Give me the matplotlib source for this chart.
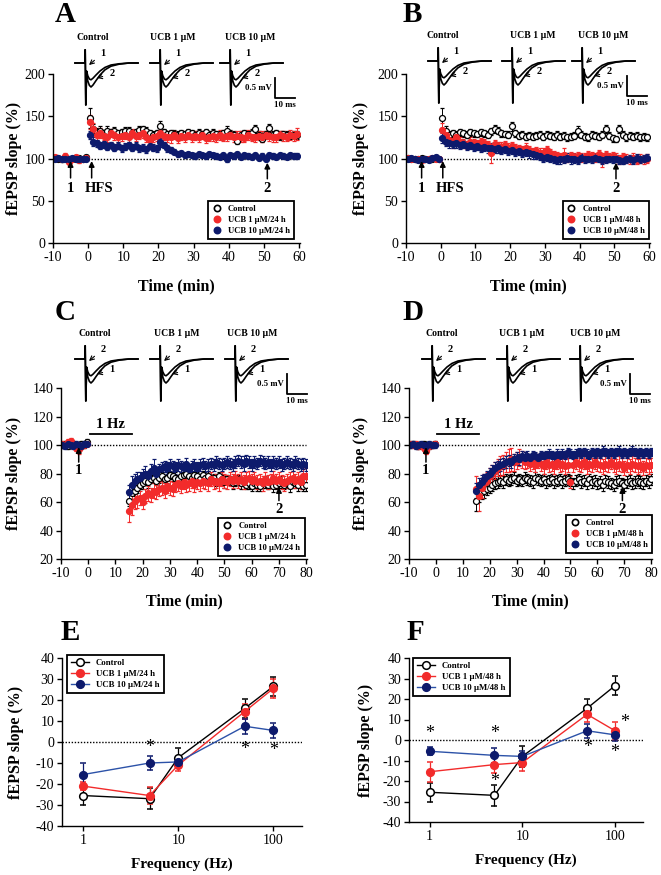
"""fEPSP time courses (LTP / LTD) and frequency-response curves, panels A-F."""

import numpy as np
import matplotlib
matplotlib.use("Agg")
import matplotlib.pyplot as plt
from matplotlib.lines import Line2D
from matplotlib.ticker import NullLocator

plt.rcParams["font.family"] = ["Liberation Serif", "DejaVu Serif"]
plt.rcParams["axes.linewidth"] = 1.0
plt.rcParams["axes.unicode_minus"] = False

W, H = 661, 875
RED = "#f22b2b"
NAVY = "#0d1a6c"
BLUE_LINE = "#2c52a8"

# ---------------- panel A (LTP, 24 h) ----------------
A_ctrl_base = [101, 100, 99, 101, 100, 99, 100, 101, 100, 102]
A_ctrl_base_err = [2, 2, 3, 2, 2, 2, 3, 2, 2, 2]
A_ctrl_post = [148, 135, 131, 133, 130, 133, 131, 132, 130, 131,
               133, 132, 130, 131, 134, 135, 133, 130, 128, 130,
               139, 131, 129, 130, 129, 128, 130, 129, 131, 130,
               128, 130, 129, 131, 128, 130, 129, 128, 130, 133,
               129, 128, 121, 128, 130, 129, 130, 135, 128, 123,
               129, 136, 128, 130, 127, 129, 128, 127, 128, 128]
A_ctrl_post_err = [12, 6, 5, 5, 4, 5, 4, 5, 4, 4,
                   4, 5, 4, 4, 5, 4, 4, 4, 5, 4,
                   5, 4, 4, 4, 5, 4, 4, 4, 4, 4,
                   4, 5, 4, 4, 4, 5, 4, 4, 4, 5,
                   5, 4, 4, 5, 4, 4, 5, 5, 5, 4,
                   4, 5, 4, 4, 5, 4, 4, 4, 4, 5]
A_red_base = [102, 101, 99, 103, 96, 100, 102, 98, 100, 101]
A_red_base_err = [2, 2, 2, 3, 3, 2, 2, 3, 2, 2]
A_red_post = [143, 135, 128, 130, 127, 126, 130, 128, 125, 127,
              128, 126, 130, 127, 128, 130, 126, 122, 125, 127,
              130, 127, 126, 125, 128, 124, 127, 126, 128, 125,
              127, 126, 128, 124, 126, 127, 125, 128, 126, 127,
              128, 125, 127, 126, 124, 128, 126, 125, 127, 126,
              128, 127, 125, 126, 128, 127, 126, 128, 127, 129]
A_red_post_err = [8, 7, 6, 6, 5, 6, 5, 6, 5, 6,
                  5, 6, 5, 6, 5, 6, 7, 6, 5, 6,
                  6, 5, 6, 7, 5, 6, 5, 6, 5, 6,
                  5, 6, 5, 6, 5, 6, 5, 6, 5, 6,
                  5, 6, 5, 6, 5, 6, 5, 6, 5, 6,
                  5, 6, 5, 6, 5, 6, 5, 6, 6, 7]
A_blue_base = [100, 101, 100, 99, 100, 101, 99, 100, 100, 100]
A_blue_base_err = [2, 2, 2, 2, 2, 2, 2, 2, 2, 2]
A_blue_post = [128, 120, 118, 115, 117, 114, 116, 113, 115, 112,
               114, 116, 113, 115, 112, 113, 111, 115, 113, 112,
               119, 116, 112, 110, 108, 105, 106, 104, 105, 104,
               103, 105, 104, 103, 105, 104, 103, 102, 104, 100,
               104, 103, 105, 102, 104, 103, 102, 104, 101, 103,
               100, 104, 103, 102, 104, 103, 102, 104, 103, 103]
A_blue_post_err = [5, 5, 4, 4, 4, 4, 4, 4, 4, 4,
                   4, 4, 4, 4, 4, 4, 4, 4, 4, 4,
                   5, 4, 4, 4, 3, 3, 3, 3, 3, 3,
                   3, 3, 3, 3, 3, 3, 3, 3, 3, 4,
                   3, 3, 3, 3, 3, 3, 3, 3, 3, 3,
                   3, 3, 3, 3, 3, 3, 3, 3, 3, 3]

# ---------------- panel B (LTP, 48 h) ----------------
B_ctrl_base = [101, 100, 100, 99, 101, 100, 99, 100, 101, 100]
B_ctrl_base_err = [2, 2, 2, 2, 2, 2, 2, 2, 2, 2]
B_ctrl_post = [148, 133, 128, 130, 128, 131, 130, 128, 131, 130,
               129, 131, 130, 128, 132, 135, 133, 130, 129, 128,
               138, 130, 127, 128, 126, 127, 126, 127, 128, 126,
               128, 127, 126, 128, 126, 127, 125, 126, 127, 132,
               128, 126, 125, 128, 127, 126, 128, 135, 127, 124,
               123, 135, 128, 125, 127, 126, 127, 125, 126, 125]
B_ctrl_post_err = [12, 5, 4, 4, 4, 4, 4, 4, 4, 4,
                   4, 4, 4, 4, 4, 5, 4, 4, 4, 4,
                   5, 4, 4, 4, 4, 4, 4, 4, 4, 4,
                   4, 4, 4, 4, 4, 4, 4, 4, 4, 6,
                   4, 4, 4, 4, 4, 4, 4, 5, 4, 4,
                   4, 5, 4, 4, 4, 4, 4, 4, 4, 4]
B_red_base = [101, 100, 99, 100, 98, 99, 100, 101, 99, 100]
B_red_base_err = [2, 2, 2, 2, 2, 2, 2, 2, 2, 2]
B_red_post = [134, 128, 122, 118, 125, 120, 118, 116, 120, 118,
              117, 119, 118, 116, 106, 117, 115, 114, 116, 113,
              115, 112, 111, 110, 113, 110, 108, 109, 107, 107,
              110, 106, 104, 103, 102, 104, 101, 103, 102, 103,
              101, 102, 104, 103, 101, 105, 98, 104, 102, 103,
              101, 99, 102, 100, 99, 101, 98, 100, 99, 100]
B_red_post_err = [8, 7, 6, 6, 6, 6, 5, 5, 6, 5,
                  5, 5, 5, 5, 11, 5, 5, 5, 5, 5,
                  5, 5, 5, 5, 5, 5, 5, 5, 5, 5,
                  5, 5, 5, 5, 5, 8, 5, 5, 5, 5,
                  5, 5, 5, 5, 5, 5, 8, 5, 5, 5,
                  5, 5, 5, 5, 5, 5, 5, 5, 5, 5]
B_blue_base = [100, 101, 99, 98, 100, 99, 98, 101, 102, 100]
B_blue_base_err = [2, 2, 2, 2, 2, 2, 2, 2, 2, 2]
B_blue_post = [124, 120, 118, 117, 118, 116, 117, 115, 116, 114,
               115, 113, 114, 112, 113, 111, 112, 110, 111, 109,
               110, 108, 109, 107, 108, 106, 105, 104, 103, 101,
               102, 101, 100, 98, 99, 100, 101, 99, 100, 98,
               101, 99, 100, 99, 101, 100, 98, 99, 100, 99,
               100, 98, 97, 99, 100, 98, 101, 99, 100, 101]
B_blue_post_err = [6, 5, 5, 5, 5, 5, 5, 5, 5, 5,
                   5, 5, 5, 5, 5, 5, 5, 5, 5, 5,
                   5, 5, 5, 5, 5, 5, 5, 5, 5, 5,
                   5, 5, 5, 5, 5, 5, 5, 5, 5, 5,
                   4, 4, 4, 4, 4, 4, 4, 4, 4, 4,
                   4, 4, 4, 4, 4, 4, 4, 4, 4, 4]

# ---------------- panel C (LTD, 24 h) ----------------
C_ctrl_base = [100, 101, 99, 100, 101, 100, 99, 101, 100, 102]
C_ctrl_base_err = [2, 2, 2, 2, 2, 2, 2, 2, 2, 2]
C_ctrl_post = [61, 66, 68, 70, 72, 73, 75, 74, 76, 77,
               75, 77, 78, 76, 77, 79, 78, 77, 76, 78,
               79, 80, 78, 77, 79, 78, 76, 79, 77, 78,
               76, 77, 75, 78, 76, 74, 76, 75, 73, 74,
               76, 73, 74, 72, 73, 71, 73, 72, 71, 73,
               74, 72, 73, 71, 72, 73, 74, 72, 73, 71,
               74, 73, 72, 74, 71, 72]
C_ctrl_post_err = [4, 5, 4, 4, 3, 4, 3, 4, 3, 3,
                   3, 4, 3, 3, 4, 3, 3, 4, 3, 3,
                   4, 3, 3, 4, 3, 3, 4, 3, 3, 4,
                   3, 3, 4, 3, 3, 4, 3, 3, 4, 3,
                   3, 4, 3, 3, 4, 3, 3, 4, 3, 3,
                   4, 3, 3, 4, 3, 3, 4, 3, 3, 4,
                   3, 3, 4, 3, 3, 4]
C_red_base = [101, 100, 102, 103, 100, 98, 97, 99, 100, 101]
C_red_base_err = [2, 2, 2, 2, 2, 2, 3, 2, 2, 2]
C_red_post = [54, 58, 61, 62, 63, 60, 64, 66, 65, 68,
              67, 69, 70, 68, 71, 70, 69, 72, 73, 71,
              74, 72, 73, 75, 72, 74, 73, 75, 74, 73,
              76, 74, 75, 73, 76, 75, 74, 76, 75, 77,
              75, 76, 74, 76, 77, 75, 76, 74, 75, 73,
              76, 74, 75, 77, 75, 76, 74, 73, 75, 76,
              77, 75, 76, 74, 78, 78]
C_red_post_err = [8, 7, 6, 6, 5, 5, 5, 5, 5, 5,
                  5, 5, 5, 5, 5, 5, 5, 5, 5, 5,
                  5, 5, 5, 5, 5, 5, 5, 5, 5, 5,
                  5, 5, 5, 5, 5, 5, 5, 5, 5, 5,
                  5, 5, 5, 5, 5, 5, 5, 5, 5, 5,
                  5, 5, 5, 5, 5, 5, 5, 5, 5, 5,
                  5, 5, 5, 5, 5, 6]
C_blue_base = [100, 99, 101, 100, 99, 101, 100, 99, 101, 101]
C_blue_base_err = [2, 2, 2, 2, 2, 2, 2, 2, 2, 2]
C_blue_post = [67, 72, 75, 76, 77, 79, 80, 78, 82, 84,
               80, 83, 84, 85, 84, 86, 85, 84, 86, 85,
               84, 87, 83, 85, 86, 84, 86, 87, 85, 86,
               87, 86, 88, 87, 86, 87, 88, 87, 86, 88,
               89, 88, 87, 89, 88, 86, 88, 87, 89, 88,
               87, 88, 86, 88, 87, 88, 86, 87, 88, 87,
               86, 88, 87, 86, 87, 86]
C_blue_post_err = [5, 6, 5, 5, 4, 4, 5, 4, 5, 6,
                   4, 4, 4, 4, 4, 4, 4, 4, 4, 4,
                   4, 4, 4, 4, 4, 4, 4, 4, 4, 4,
                   4, 4, 4, 4, 4, 4, 4, 4, 4, 4,
                   4, 4, 5, 4, 4, 4, 4, 4, 4, 4,
                   4, 4, 4, 4, 4, 4, 4, 4, 4, 4,
                   4, 4, 4, 4, 4, 4]

# ---------------- panel D (LTD, 48 h) ----------------
D_ctrl_base = [100, 101, 100, 99, 100, 101, 100, 99, 100, 101]
D_ctrl_base_err = [2, 2, 2, 2, 2, 2, 2, 2, 2, 2]
D_ctrl_post = [61, 65, 67, 68, 69, 70, 72, 73, 74, 75,
               74, 76, 75, 76, 77, 75, 76, 75, 77, 76,
               75, 74, 77, 76, 75, 76, 74, 75, 76, 74,
               75, 76, 74, 75, 76, 75, 73, 75, 76, 74,
               75, 73, 76, 74, 75, 73, 74, 72, 75, 74,
               73, 72, 74, 75, 73, 72, 74, 75, 73, 74,
               75, 74, 73, 75, 74, 76]
D_ctrl_post_err = [7, 5, 5, 5, 4, 4, 4, 4, 4, 4,
                   4, 4, 4, 4, 4, 4, 4, 4, 4, 4,
                   4, 4, 4, 4, 4, 4, 4, 4, 4, 4,
                   4, 4, 4, 4, 4, 4, 4, 4, 4, 4,
                   4, 4, 4, 4, 4, 4, 4, 4, 4, 4,
                   4, 4, 4, 4, 4, 4, 4, 4, 4, 4,
                   4, 4, 4, 4, 4, 4]
D_red_base = [101, 100, 101, 99, 100, 98, 96, 99, 100, 101]
D_red_base_err = [2, 2, 2, 2, 2, 2, 2, 2, 2, 2]
D_red_post = [69, 64, 70, 73, 75, 78, 80, 82, 84, 85,
              86, 88, 89, 90, 88, 89, 91, 90, 88, 89,
              87, 88, 86, 89, 87, 85, 88, 86, 87, 85,
              88, 86, 87, 85, 86, 74, 86, 88, 87, 86,
              88, 85, 87, 86, 88, 87, 86, 85, 87, 86,
              88, 86, 85, 87, 86, 84, 86, 85, 87, 86,
              85, 86, 84, 86, 85, 86]
D_red_post_err = [9, 10, 7, 7, 6, 6, 6, 6, 6, 7,
                  7, 7, 8, 8, 6, 6, 6, 6, 5, 5,
                  5, 5, 5, 5, 5, 5, 5, 5, 5, 5,
                  5, 5, 5, 5, 5, 4, 5, 5, 5, 5,
                  5, 5, 5, 5, 5, 5, 5, 5, 5, 5,
                  5, 5, 5, 5, 5, 5, 5, 5, 5, 5,
                  5, 5, 5, 5, 5, 5]
D_blue_base = [100, 101, 99, 100, 101, 100, 99, 101, 100, 100]
D_blue_base_err = [2, 2, 2, 2, 2, 2, 2, 2, 2, 2]
D_blue_post = [68, 72, 74, 76, 78, 80, 82, 84, 85, 86,
               87, 88, 89, 88, 90, 91, 90, 92, 91, 92,
               91, 93, 92, 91, 93, 92, 93, 94, 93, 92,
               94, 93, 94, 93, 95, 94, 93, 94, 95, 94,
               95, 94, 93, 95, 94, 95, 94, 96, 95, 94,
               95, 94, 95, 96, 94, 95, 94, 95, 96, 95,
               94, 95, 94, 95, 94, 95]
D_blue_post_err = [5, 5, 5, 4, 4, 4, 4, 4, 4, 4,
                   4, 4, 4, 4, 4, 4, 4, 4, 4, 4,
                   3, 3, 3, 3, 3, 3, 3, 3, 3, 3,
                   3, 3, 3, 3, 3, 3, 3, 3, 3, 3,
                   3, 3, 3, 3, 3, 3, 3, 3, 3, 3,
                   3, 3, 3, 3, 3, 3, 3, 3, 3, 3,
                   3, 3, 3, 3, 3, 3]

# ---------------- panels E / F (frequency response) ----------------
freq = [1, 5, 10, 50, 100]
E_ctrl = [-25.5, -27, -7.5, 16, 26.5]
E_ctrl_err = [4.5, 5, 4.5, 4.5, 4.5]
E_red = [-21, -25.5, -11, 14.5, 25.5]
E_red_err = [2, 4, 3, 3.5, 4.5]
E_blue = [-15.5, -10, -9.5, 7.5, 5.5]
E_blue_err = [5.5, 3.5, 2, 3.5, 3.5]
E_stars = [(5, -2.5), (50, -3.5), (100, -4)]

F_ctrl = [-25.5, -27, -8, 15.5, 26.5]
F_ctrl_err = [4.5, 5, 5, 4.5, 4.5]
F_red = [-15.5, -12, -11, 12.5, 4.5]
F_red_err = [5, 4, 4, 3.5, 4.5]
F_blue = [-5.5, -7.5, -8, 4.5, 2.5]
F_blue_err = [2, 3.5, 2.5, 3.5, 3]
F_stars = [(1, 3), (5, 3), (5, -20), (50, -3.5), (100, -6), (128, 8.5)]

LEG_24 = ["Control", "UCB 1 \u03bcM/24 h", "UCB 10 \u03bcM/24 h"]
LEG_48 = ["Control", "UCB 1 \u03bcM/48 h", "UCB 10 \u03bcM/48 h"]

# example fEPSP traces (ms, mV) used for the insets
trace_t = [0, 4.9, 5.1, 5.4, 5.8, 6.4, 7.2, 8.0, 9.0, 10.5, 12.5, 15, 18, 22, 27, 31.5]
trace_small = [0, 0, 0.33, -1.05, -0.2, -0.32, -0.4, -0.42, -0.38, -0.3,
               -0.2, -0.11, -0.05, -0.02, 0, 0]
trace_large = [0, 0, 0.33, -1.05, -0.25, -0.45, -0.56, -0.6, -0.55, -0.44,
               -0.3, -0.17, -0.08, -0.03, 0, 0]

POINT_STYLES = [
    dict(mfc="white", mec="black", ecolor="black"),
    dict(mfc=RED, mec=RED, ecolor=RED),
    dict(mfc=NAVY, mec=NAVY, ecolor=NAVY),
]


def px_rect(left, top, right, bottom):
    return [left / W, 1 - bottom / H, (right - left) / W, (bottom - top) / H]


def style_axes(ax):
    ax.spines["top"].set_visible(False)
    ax.spines["right"].set_visible(False)
    ax.tick_params(labelsize=10, length=3.5, width=1.0, pad=2, direction="out")


def bold(size):
    return dict(family="Liberation Serif", weight="bold", size=size)


def legend(ax, handles, labels, size, **kw):
    leg = ax.legend(handles, labels, prop=bold(size), frameon=True, fancybox=False,
                    edgecolor="black", framealpha=1, borderaxespad=0,
                    handletextpad=0.8, labelspacing=0.3, borderpad=0.5, **kw)
    leg.get_frame().set_linewidth(1.3)


def arrow_up(ax, x, y0, y1, label, ly, label_x=None, size=10.5):
    ax.annotate("", xy=(x, y1), xytext=(x, y0),
                arrowprops=dict(arrowstyle="-|>", color="black", lw=1.1,
                                mutation_scale=8, shrinkA=0, shrinkB=0))
    ax.text(x if label_x is None else label_x, ly, label, ha="center", va="center",
            fontdict=bold(size))


def timecourse(ax, series, post_start, xmax, ylim, yticks, labels, leg_anchor):
    for (base, base_err, post, post_err), st in zip(series, POINT_STYLES):
        t = np.concatenate([np.arange(len(base)) - 9.5,
                            np.arange(len(post)) + post_start])
        ax.errorbar(t, base + post, yerr=base_err + post_err, fmt="o", ms=4.3,
                    mew=0.9, capsize=1.3, elinewidth=0.7, capthick=0.7, **st)
    ax.hlines(100, 0, xmax, colors="black", linestyles=(0, (1, 1.2)), lw=1.0, zorder=0)
    ax.set_xlim(-10, xmax + 0.3)
    ax.set_ylim(*ylim)
    ax.set_yticks(yticks)
    ax.set_xticks(np.arange(-10, xmax + 1, 10))
    ax.set_ylabel("fEPSP slope (%)", fontdict=bold(11.5))
    ax.set_xlabel("Time (min)", fontdict=bold(11.5))
    style_axes(ax)
    handles = [Line2D([], [], ls="none", marker="o", ms=4.5, mew=1.2,
                      mfc=st["mfc"], mec=st["mec"]) for st in POINT_STYLES]
    legend(ax, handles, labels, 6.2, loc="lower right", bbox_to_anchor=leg_anchor,
           handlelength=1.0)


def freq_plot(ax, series, labels, stars, leg_anchor):
    line_colors = ["black", RED, BLUE_LINE]
    handles = []
    for (y, e), st, lc in zip(series, POINT_STYLES, line_colors):
        ax.errorbar(freq, y, yerr=e, fmt="-o", color=lc, lw=1.0, ms=5.5, mew=1.1,
                    capsize=2.5, elinewidth=0.9, capthick=0.9, **st)
        handles.append(Line2D([], [], color=lc, lw=1.0, marker="o", ms=5.5, mew=1.1,
                              mfc=st["mfc"], mec=st["mec"]))
    ax.axhline(0, color="black", ls=(0, (1, 1.2)), lw=1.0, zorder=0)
    ax.set_xscale("log")
    ax.set_xlim(0.6, 200)
    ax.set_xticks([1, 10, 100])
    ax.set_xticklabels(["1", "10", "100"])
    ax.xaxis.set_minor_locator(NullLocator())
    ax.set_ylim(-40, 40)
    ax.set_yticks(np.arange(-40, 41, 10))
    ax.set_ylabel("fEPSP slope (%)", fontdict=bold(11.5))
    ax.set_xlabel("Frequency (Hz)", fontdict=bold(11))
    style_axes(ax)
    for x, y in stars:
        ax.text(x, y, "*", ha="center", va="center", fontsize=13)
    legend(ax, handles, labels, 6.3, loc="upper left", bbox_to_anchor=leg_anchor,
           handlelength=2.0)


fig = plt.figure(figsize=(W / 100, H / 100), dpi=100)

axA = fig.add_axes(px_rect(53, 74, 300, 243))
timecourse(axA, [(A_ctrl_base, A_ctrl_base_err, A_ctrl_post, A_ctrl_post_err),
                 (A_red_base, A_red_base_err, A_red_post, A_red_post_err),
                 (A_blue_base, A_blue_base_err, A_blue_post, A_blue_post_err)],
           0.5, 60, (0, 200), np.arange(0, 201, 50), LEG_24, (0.976, 0.024))
arrow_up(axA, -5, 77, 97, "1", 65)
arrow_up(axA, 1, 77, 97, "HFS", 65, label_x=3.2)
arrow_up(axA, 51, 76, 95, "2", 65)

axB = fig.add_axes(px_rect(406, 74, 650, 243))
timecourse(axB, [(B_ctrl_base, B_ctrl_base_err, B_ctrl_post, B_ctrl_post_err),
                 (B_red_base, B_red_base_err, B_red_post, B_red_post_err),
                 (B_blue_base, B_blue_base_err, B_blue_post, B_blue_post_err)],
           0.5, 60, (0, 200), np.arange(0, 201, 50), LEG_48, (0.995, 0.024))
arrow_up(axB, -5.5, 77, 97, "1", 65)
arrow_up(axB, 0.6, 77, 97, "HFS", 65, label_x=2.8)
arrow_up(axB, 50.5, 76, 95, "2", 65)

axC = fig.add_axes(px_rect(61, 388, 307, 559))
timecourse(axC, [(C_ctrl_base, C_ctrl_base_err, C_ctrl_post, C_ctrl_post_err),
                 (C_red_base, C_red_base_err, C_red_post, C_red_post_err),
                 (C_blue_base, C_blue_base_err, C_blue_post, C_blue_post_err)],
           15, 80, (20, 140), np.arange(20, 141, 20), LEG_24, (0.99, 0.018))
arrow_up(axC, -3.5, 88, 98.5, "1", 82)
arrow_up(axC, 70, 61, 70.5, "2", 55)

axD = fig.add_axes(px_rect(409, 388, 652, 559))
timecourse(axD, [(D_ctrl_base, D_ctrl_base_err, D_ctrl_post, D_ctrl_post_err),
                 (D_red_base, D_red_base_err, D_red_post, D_red_post_err),
                 (D_blue_base, D_blue_base_err, D_blue_post, D_blue_post_err)],
           15, 80, (20, 140), np.arange(20, 141, 20), LEG_48, (1.0, 0.035))
arrow_up(axD, -3.7, 88, 98.5, "1", 82)
arrow_up(axD, 69.3, 61, 70.5, "2", 55)

for ax in (axC, axD):
    ax.plot([0.5, 16], [108, 108], color="black", lw=1.3, clip_on=False)
    ax.text(8.3, 109.5, "1 Hz", ha="center", va="bottom", fontdict=bold(10.5))

axA.yaxis.set_label_coords(-0.125, 0.5)
axB.yaxis.set_label_coords(-0.152, 0.5)
axC.yaxis.set_label_coords(-0.159, 0.5)
axD.yaxis.set_label_coords(-0.165, 0.5)
for ax in (axA, axB):
    ax.xaxis.set_label_coords(0.5, -0.21)
for ax in (axC, axD):
    ax.xaxis.set_label_coords(0.5, -0.2)

axE = fig.add_axes(px_rect(62, 658, 302, 826))
freq_plot(axE, [(E_ctrl, E_ctrl_err), (E_red, E_red_err), (E_blue, E_blue_err)],
          LEG_24, E_stars, (0.02, 1.02))
axF = fig.add_axes(px_rect(409, 658, 643, 822))
freq_plot(axF, [(F_ctrl, F_ctrl_err), (F_red, F_red_err), (F_blue, F_blue_err)],
          LEG_48, F_stars, (0.017, 1.0))
axE.yaxis.set_label_coords(-0.158, 0.5)
axF.yaxis.set_label_coords(-0.15, 0.5)
for ax in (axE, axF):
    ax.xaxis.set_label_coords(0.5, -0.19)

# overlay in pixel units for panel letters and trace insets
ov = fig.add_axes([0, 0, 1, 1])
ov.set_xlim(0, W)
ov.set_ylim(H, 0)
ov.axis("off")
ov.patch.set_visible(False)

for letter, x, y in [("A", 65, 15), ("B", 412, 15), ("C", 65, 313),
                     ("D", 413, 313), ("E", 70, 632), ("F", 415, 632)]:
    ov.text(x, y, letter, ha="center", va="center", fontdict=bold(21))

PX_MS, PX_MV = 2.0, 40.0
trace_panels = [
    ([85, 160, 230], 63, [93, 173, 250], 275, "1", "2"),
    ([438, 512, 582], 61, [443, 533, 603], 627, "1", "2"),
    ([85, 160, 235], 359, [95, 177, 252], 287, "2", "1"),
    ([432, 507, 580], 359, [442, 522, 595], 630, "2", "1"),
]
cond_labels = ["Control", "UCB 1 \u03bcM", "UCB 10 \u03bcM"]
for arts, base, lxs, bar_x, upper, lower in trace_panels:
    for art, lx, name in zip(arts, lxs, cond_labels):
        for tr in (trace_small, trace_large):
            xs = art + (np.array(trace_t) - 5.0) * PX_MS
            ys = base - np.array(tr) * PX_MV
            ov.plot(xs, ys, color="black", lw=1.2, solid_joinstyle="round")
        ov.text(lx, base - 25, name, ha="center", va="center", fontdict=bold(7))
        ov.annotate(upper, xy=(art + 4, base + 2), xytext=(art + 18, base - 10),
                    ha="center", va="center",
                    family="Liberation Serif", weight="bold", size=7.5,
                    arrowprops=dict(arrowstyle="->", color="black", lw=0.8,
                                    shrinkA=3, shrinkB=0))
        ov.annotate(lower, xy=(art + 12, base + 15), xytext=(art + 27, base + 11),
                    ha="center", va="center",
                    family="Liberation Serif", weight="bold", size=7.5,
                    arrowprops=dict(arrowstyle="->", color="black", lw=0.8,
                                    shrinkA=3, shrinkB=0))
    ov.plot([bar_x, bar_x, bar_x + 10 * PX_MS],
            [base + 15, base + 15 + 0.5 * PX_MV, base + 15 + 0.5 * PX_MV],
            color="black", lw=1.3)
    ov.text(bar_x - 3, base + 25, "0.5 mV", ha="right", va="center", fontdict=bold(6.3))
    ov.text(bar_x + 10, base + 42, "10 ms", ha="center", va="center", fontdict=bold(6.3))

fig.savefig("out.png", dpi=100)
